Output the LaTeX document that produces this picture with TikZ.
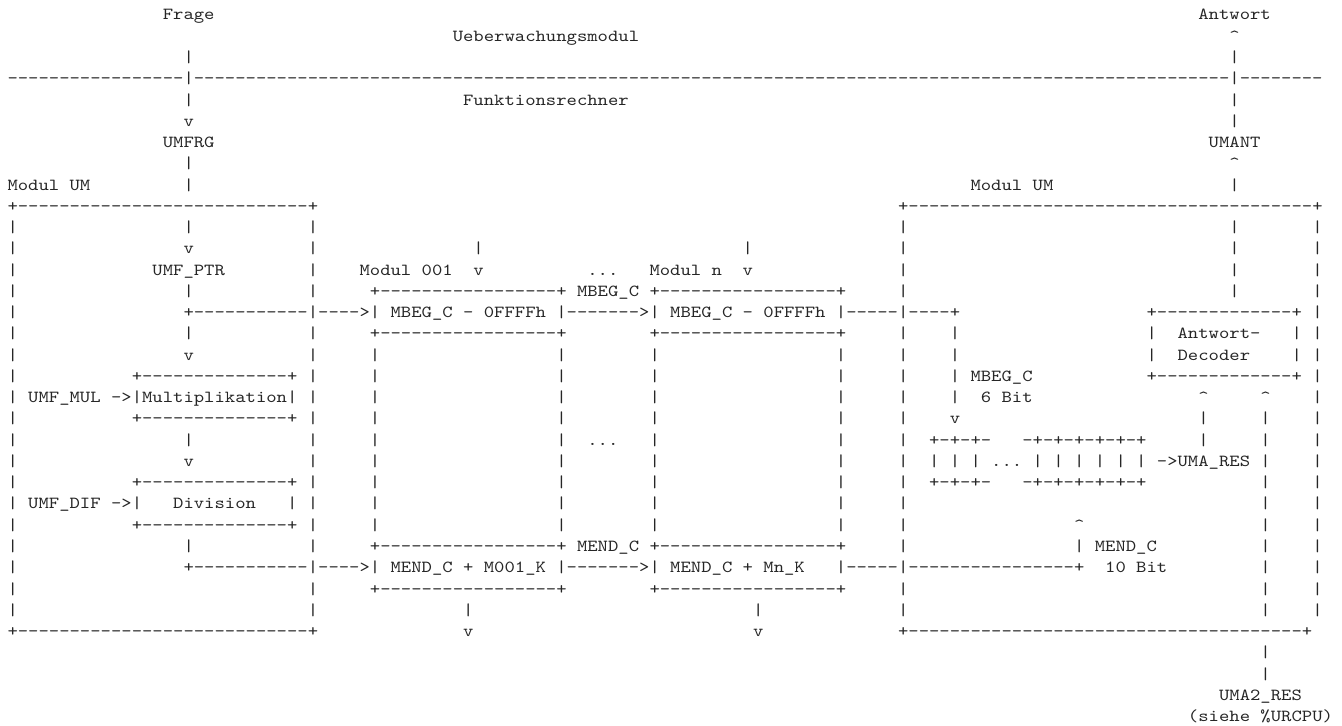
\documentclass[tikz,border=0pt]{standalone}
\usepackage{fontspec}
\setmonofont{lmmono10-regular}[Extension=.otf, FakeStretch=1.1671]
\newcommand\dashrun[1]{\foreach \i in {1,...,#1}{-}}
\newcommand\caret{\textasciicircum}

\begin{document}
\begin{tikzpicture}[x=5.1775pt, y=-10.63pt,
		ascii/.style={anchor=base west, inner sep=0pt, outer sep=0pt, text=black!85,
			font=\ttfamily\frenchspacing\fontsize{8.45pt}{10.63pt}\selectfont}]
		\useasboundingbox[fill=white] (-0.7243,-0.9407) rectangle (128.874,33.208);
		
		% Ueberwachungsmodul / Funktionsrechner
		\node[ascii] (frage) at (15,0) {Frage};
		\node[ascii] (antwort) at (115,0) {Antwort};
		\node[ascii] (ueber) at (43,1) {Ueberwachungsmodul};
		\node[ascii] (a1) at (118,1) {\caret};
		\node[ascii] (f2) at (17,2) {|};
		\node[ascii] (a2) at (118,2) {|};
		\node[ascii] (grenze) at (0,3) {\dashrun{17}|\dashrun{100}|\dashrun{8}};
		\node[ascii] (f4) at (17,4) {|};
		\node[ascii] (funk) at (44,4) {Funktionsrechner};
		\node[ascii] (a4) at (118,4) {|};
		\node[ascii] (f5) at (17,5) {v};
		\node[ascii] (a5) at (118,5) {|};
		\node[ascii] (umfrg) at (15,6) {UMFRG};
		\node[ascii] (umant) at (116,6) {UMANT};
		\node[ascii] (f7) at (17,7) {|};
		\node[ascii] (a7) at (118,7) {\caret};
		\node[ascii] (modL) at (0,8) {Modul UM};
		\node[ascii] (f8) at (17,8) {|};
		\node[ascii] (modR) at (93,8) {Modul UM};
		\node[ascii] (a8) at (118,8) {|};
		
		% Modul UM, beide Rahmen
		\node[ascii] (topL) at (0,9) {+\dashrun{28}+};
		\node[ascii] (topR) at (86,9) {+\dashrun{39}+};
		\foreach \r in {10,...,28} {
			\node[ascii] (ll\r) at (0,\r) {|};
			\node[ascii] (lr\r) at (29,\r) {|};
			\node[ascii] (rl\r) at (86,\r) {|};
			\node[ascii] (rr\r) at (126,\r) {|};
		}
		\node[ascii] (botL) at (0,29) {+\dashrun{28}+};
		\node[ascii] (botR) at (86,29) {+\dashrun{38}+};
		
		% Module 001 ... n
		\foreach \r in {14,16,17,...,24,26}
			\foreach \c in {35,53,62,80}
				\node[ascii] (m\c-\r) at (\c,\r) {|};
		\foreach \r in {13,15,25,27} {
			\node[ascii] (m1h\r) at (35,\r) {+\dashrun{17}+};
			\node[ascii] (mnh\r) at (62,\r) {+\dashrun{17}+};
		}
		
		\node[ascii] (f10) at (17,10) {|};
		\node[ascii] (a10) at (118,10) {|};
		\node[ascii] (f11) at (17,11) {v};
		\node[ascii] (e1) at (45,11) {|};
		\node[ascii] (en) at (71,11) {|};
		\node[ascii] (a11) at (118,11) {|};
		\node[ascii] (ptr) at (14,12) {UMF\_PTR};
		\node[ascii] (mod1) at (34,12) {Modul 001};
		\node[ascii] (e1v) at (45,12) {v};
		\node[ascii] (dots1) at (56,12) {...};
		\node[ascii] (modn) at (62,12) {Modul n};
		\node[ascii] (env) at (71,12) {v};
		\node[ascii] (a12) at (118,12) {|};
		\node[ascii] (f13) at (17,13) {|};
		\node[ascii] (mbeg) at (55,13) {MBEG\_C};
		\node[ascii] (a13) at (118,13) {|};
		
		\node[ascii] (ptrline) at (17,14) {+\dashrun{11}};
		\node[ascii] (in1) at (30,14) {\dashrun{4}>};
		\node[ascii] (beg1) at (37,14) {MBEG\_C - 0FFFFh};
		\node[ascii] (l1n) at (54,14) {\dashrun{7}>};
		\node[ascii] (begn) at (64,14) {MBEG\_C - 0FFFFh};
		\node[ascii] (outn) at (81,14) {\dashrun{5}};
		\node[ascii] (begbus) at (87,14) {\dashrun{4}+};
		\node[ascii] (dectop) at (110,14) {+\dashrun{13}+};
		
		\node[ascii] (f15) at (17,15) {|};
		\node[ascii] (b15) at (91,15) {|};
		\node[ascii] (d15l) at (110,15) {|};
		\node[ascii] (dec1) at (113,15) {Antwort-};
		\node[ascii] (d15r) at (124,15) {|};
		\node[ascii] (f16) at (17,16) {v};
		\node[ascii] (b16) at (91,16) {|};
		\node[ascii] (d16l) at (110,16) {|};
		\node[ascii] (dec2) at (113,16) {Decoder};
		\node[ascii] (d16r) at (124,16) {|};
		\node[ascii] (multop) at (12,17) {+\dashrun{14}+};
		\node[ascii] (b17) at (91,17) {|};
		\node[ascii] (mbegb) at (93,17) {MBEG\_C};
		\node[ascii] (decbot) at (110,17) {+\dashrun{13}+};
		\node[ascii] (mul) at (2,18) {UMF\_MUL ->|Multiplikation|};
		\node[ascii] (b18) at (91,18) {|};
		\node[ascii] (bit6) at (94,18) {6 Bit};
		\node[ascii] (u18a) at (115,18) {\caret};
		\node[ascii] (u18b) at (121,18) {\caret};
		\node[ascii] (mulbot) at (12,19) {+\dashrun{14}+};
		\node[ascii] (b19) at (91,19) {v};
		\node[ascii] (u19) at (115,19) {|};
		
		% Register
		\node[ascii] (f20) at (17,20) {|};
		\node[ascii] (dots2) at (56,20) {...};
		\node[ascii] (regtopa) at (89,20) {+-+-+-};
		\node[ascii] (regtopb) at (98,20) {-+-+-+-+-+-+};
		\node[ascii] (u20) at (115,20) {|};
		\node[ascii] (f21) at (17,21) {v};
		\node[ascii] (reg) at (89,21) {| | | ... | | | | | |};
		\node[ascii] (uma) at (111,21) {->UMA\_RES};
		\node[ascii] (divtop) at (12,22) {+\dashrun{14}+};
		\node[ascii] (regbota) at (89,22) {+-+-+-};
		\node[ascii] (regbotb) at (98,22) {-+-+-+-+-+-+};
		\node[ascii] (dif) at (2,23) {UMF\_DIF ->|};
		\node[ascii] (div) at (16,23) {Division};
		\node[ascii] (divr) at (27,23) {|};
		\node[ascii] (divbot) at (12,24) {+\dashrun{14}+};
		\node[ascii] (e24) at (103,24) {\caret};
		
		\node[ascii] (f25) at (17,25) {|};
		\node[ascii] (mend) at (55,25) {MEND\_C};
		\node[ascii] (e25) at (103,25) {|};
		\node[ascii] (mendb) at (105,25) {MEND\_C};
		\node[ascii] (difline) at (17,26) {+\dashrun{11}};
		\node[ascii] (in1b) at (30,26) {\dashrun{4}>};
		\node[ascii] (end1) at (37,26) {MEND\_C + M001\_K};
		\node[ascii] (l1nb) at (54,26) {\dashrun{7}>};
		\node[ascii] (endn) at (64,26) {MEND\_C + Mn\_K};
		\node[ascii] (outnb) at (81,26) {\dashrun{5}};
		\node[ascii] (endbus) at (87,26) {\dashrun{16}+};
		\node[ascii] (bit10) at (106,26) {10 Bit};
		\node[ascii] (x1) at (44,28) {|};
		\node[ascii] (xn) at (72,28) {|};
		\node[ascii] (x1v) at (44,29) {v};
		\node[ascii] (xnv) at (72,29) {v};
		
		% UMA2_RES
		\foreach \r in {19,...,28,30,31}
			\node[ascii] (g\r) at (121,\r) {|};
		\node[ascii] (res2) at (117,32) {UMA2\_RES};
		\node[ascii] (siehe) at (114,33) {(siehe \%URCPU)};
	\end{tikzpicture}
\end{document}
